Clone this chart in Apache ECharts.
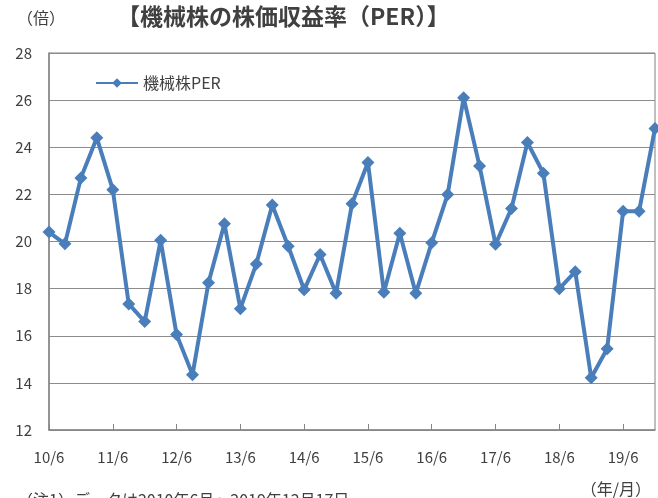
<!DOCTYPE html>
<html>
<head>
<meta charset="utf-8">
<script src="https://cdn.jsdelivr.net/npm/echarts@6/dist/echarts.min.js"></script>
<style>
  html, body { margin: 0; padding: 0; background: #fff; }
  #chart { width: 658px; height: 498px; }
</style>
</head>
<body>
<div id="chart"></div>
<script>
// 四半期ごとのカテゴリ（年/月）
const months = [
  '10/6', '10/9', '10/12', '11/3',
  '11/6', '11/9', '11/12', '12/3',
  '12/6', '12/9', '12/12', '13/3',
  '13/6', '13/9', '13/12', '14/3',
  '14/6', '14/9', '14/12', '15/3',
  '15/6', '15/9', '15/12', '16/3',
  '16/6', '16/9', '16/12', '17/3',
  '17/6', '17/9', '17/12', '18/3',
  '18/6', '18/9', '18/12', '19/3',
  '19/6', '19/9', '19/12'
];
// 機械株PER（倍）
const perValues = [
  20.4, 19.9, 22.7, 24.4,
  22.2, 17.35, 16.6, 20.05,
  16.05, 14.35, 18.25, 20.75,
  17.15, 19.05, 21.55, 19.8,
  17.95, 19.45, 17.8, 21.6,
  23.35, 17.85, 20.35, 17.8,
  19.95, 22.0, 26.1, 23.2,
  19.88, 21.4, 24.2, 22.9,
  18.0, 18.72, 14.22, 15.45,
  21.28, 21.28, 24.8
];
const yTicks = { min: 12, max: 28, interval: 2 };

const font = '"Noto Sans CJK JP", "Noto Sans", sans-serif';
const chart = echarts.init(document.getElementById('chart'));
chart.setOption({
  animation: false,
  textStyle: { fontFamily: font },
  title: [
    {
      text: '【機械株の株価収益率（PER）】',
      left: 112, top: 0,
      textStyle: { fontSize: 23, fontWeight: 'bold', color: '#404040', fontFamily: font }
    },
    {
      text: '（倍）',
      left: 12, top: 5,
      textStyle: { fontSize: 16, fontWeight: 'normal', color: '#404040', fontFamily: font }
    },
    {
      text: '（年/月）',
      right: 2, top: 476,
      textStyle: { fontSize: 16, fontWeight: 'normal', color: '#404040', fontFamily: font }
    },
    {
      text: '（注1）データは2010年6月～2019年12月17日',
      left: 12, top: 487,
      textStyle: { fontSize: 16, fontWeight: 'normal', color: '#404040', fontFamily: font }
    }
  ],
  legend: {
    left: 90, top: 70,
    itemWidth: 42, itemHeight: 12,
    itemGap: 2,
    textStyle: { fontSize: 16, color: '#404040', fontFamily: font },
    data: ['機械株PER']
  },
  grid: {
    left: 49, right: 3, top: 53, bottom: 68,
    show: true, borderColor: '#808080', borderWidth: 1
  },
  xAxis: {
    type: 'category',
    data: months,
    boundaryGap: false,
    axisLine: { lineStyle: { color: '#868686', width: 1.5 } },
    axisTick: { inside: true, length: 6, interval: 3, lineStyle: { color: '#868686' } },
    axisLabel: { interval: 3, margin: 20, fontSize: 15, color: '#404040' },
    splitLine: { show: false }
  },
  yAxis: {
    type: 'value',
    min: yTicks.min, max: yTicks.max, interval: yTicks.interval,
    axisLine: { show: true, lineStyle: { color: '#868686', width: 1.5 } },
    axisTick: { show: false },
    axisLabel: { margin: 17, fontSize: 15, color: '#404040' },
    splitLine: { lineStyle: { color: '#8c8c8c', width: 1 } }
  },
  series: [{
    name: '機械株PER',
    type: 'line',
    data: perValues,
    symbol: 'diamond',
    symbolSize: 13,
    showAllSymbol: true,
    lineStyle: { color: '#4a7ebb', width: 4 },
    itemStyle: { color: '#4a7ebb' }
  }]
});
</script>
</body>
</html>
